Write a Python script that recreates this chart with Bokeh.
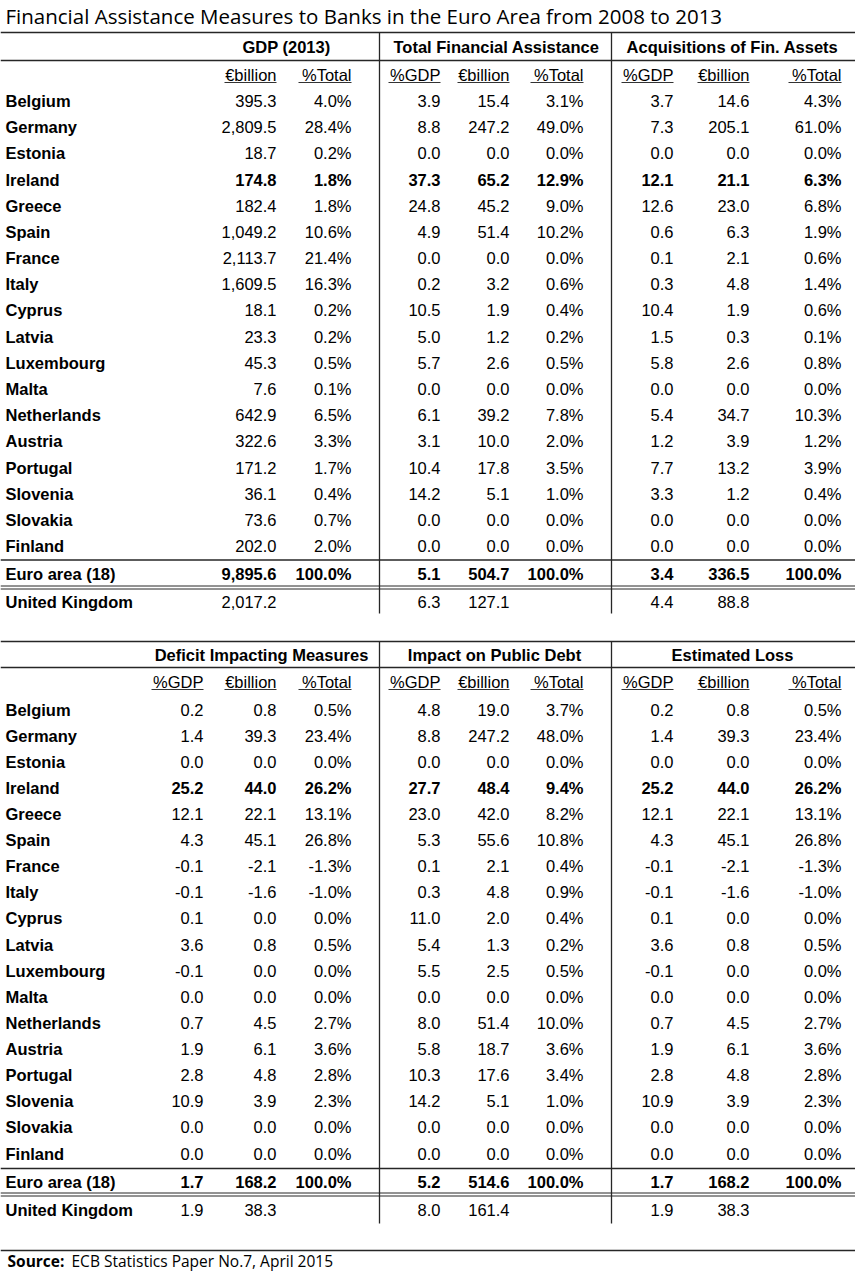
from bokeh.plotting import figure
from bokeh.models import ColumnDataSource, Range1d
from bokeh.core.properties import value
from bokeh.embed import file_html
from bokeh.resources import INLINE

# ---------------- data ----------------
title = "Financial Assistance Measures to Banks in the Euro Area from 2008 to 2013"
source_label = "Source:"
source_text = "ECB Statistics Paper No.7, April 2015"

countries = ["Belgium", "Germany", "Estonia", "Ireland", "Greece", "Spain", "France",
             "Italy", "Cyprus", "Latvia", "Luxembourg", "Malta", "Netherlands",
             "Austria", "Portugal", "Slovenia", "Slovakia", "Finland",
             "Euro area (18)", "United Kingdom"]
bold_rows = ["Ireland", "Euro area (18)"]

table1_groups = ["GDP (2013)", "Total Financial Assistance", "Acquisitions of Fin. Assets"]
table2_groups = ["Deficit Impacting Measures", "Impact on Public Debt", "Estimated Loss"]
sub_gdp = ["€billion", "%Total"]
sub_std = ["%GDP", "€billion", "%Total"]

gdp_bn = [395.3, 2809.5, 18.7, 174.8, 182.4, 1049.2, 2113.7, 1609.5, 18.1, 23.3, 45.3,
          7.6, 642.9, 322.6, 171.2, 36.1, 73.6, 202.0, 9895.6, 2017.2]
gdp_pct = [4.0, 28.4, 0.2, 1.8, 1.8, 10.6, 21.4, 16.3, 0.2, 0.2, 0.5, 0.1, 6.5, 3.3,
           1.7, 0.4, 0.7, 2.0, 100.0, None]

tfa_gdp = [3.9, 8.8, 0.0, 37.3, 24.8, 4.9, 0.0, 0.2, 10.5, 5.0, 5.7, 0.0, 6.1, 3.1,
           10.4, 14.2, 0.0, 0.0, 5.1, 6.3]
tfa_bn = [15.4, 247.2, 0.0, 65.2, 45.2, 51.4, 0.0, 3.2, 1.9, 1.2, 2.6, 0.0, 39.2, 10.0,
          17.8, 5.1, 0.0, 0.0, 504.7, 127.1]
tfa_pct = [3.1, 49.0, 0.0, 12.9, 9.0, 10.2, 0.0, 0.6, 0.4, 0.2, 0.5, 0.0, 7.8, 2.0,
           3.5, 1.0, 0.0, 0.0, 100.0, None]

acq_gdp = [3.7, 7.3, 0.0, 12.1, 12.6, 0.6, 0.1, 0.3, 10.4, 1.5, 5.8, 0.0, 5.4, 1.2,
           7.7, 3.3, 0.0, 0.0, 3.4, 4.4]
acq_bn = [14.6, 205.1, 0.0, 21.1, 23.0, 6.3, 2.1, 4.8, 1.9, 0.3, 2.6, 0.0, 34.7, 3.9,
          13.2, 1.2, 0.0, 0.0, 336.5, 88.8]
acq_pct = [4.3, 61.0, 0.0, 6.3, 6.8, 1.9, 0.6, 1.4, 0.6, 0.1, 0.8, 0.0, 10.3, 1.2,
           3.9, 0.4, 0.0, 0.0, 100.0, None]

dim_gdp = [0.2, 1.4, 0.0, 25.2, 12.1, 4.3, -0.1, -0.1, 0.1, 3.6, -0.1, 0.0, 0.7, 1.9,
           2.8, 10.9, 0.0, 0.0, 1.7, 1.9]
dim_bn = [0.8, 39.3, 0.0, 44.0, 22.1, 45.1, -2.1, -1.6, 0.0, 0.8, 0.0, 0.0, 4.5, 6.1,
          4.8, 3.9, 0.0, 0.0, 168.2, 38.3]
dim_pct = [0.5, 23.4, 0.0, 26.2, 13.1, 26.8, -1.3, -1.0, 0.0, 0.5, 0.0, 0.0, 2.7, 3.6,
           2.8, 2.3, 0.0, 0.0, 100.0, None]

ipd_gdp = [4.8, 8.8, 0.0, 27.7, 23.0, 5.3, 0.1, 0.3, 11.0, 5.4, 5.5, 0.0, 8.0, 5.8,
           10.3, 14.2, 0.0, 0.0, 5.2, 8.0]
ipd_bn = [19.0, 247.2, 0.0, 48.4, 42.0, 55.6, 2.1, 4.8, 2.0, 1.3, 2.5, 0.0, 51.4, 18.7,
          17.6, 5.1, 0.0, 0.0, 514.6, 161.4]
ipd_pct = [3.7, 48.0, 0.0, 9.4, 8.2, 10.8, 0.4, 0.9, 0.4, 0.2, 0.5, 0.0, 10.0, 3.6,
           3.4, 1.0, 0.0, 0.0, 100.0, None]

loss_gdp = [0.2, 1.4, 0.0, 25.2, 12.1, 4.3, -0.1, -0.1, 0.1, 3.6, -0.1, 0.0, 0.7, 1.9,
            2.8, 10.9, 0.0, 0.0, 1.7, 1.9]
loss_bn = [0.8, 39.3, 0.0, 44.0, 22.1, 45.1, -2.1, -1.6, 0.0, 0.8, 0.0, 0.0, 4.5, 6.1,
           4.8, 3.9, 0.0, 0.0, 168.2, 38.3]
loss_pct = [0.5, 23.4, 0.0, 26.2, 13.1, 26.8, -1.3, -1.0, 0.0, 0.5, 0.0, 0.0, 2.7, 3.6,
            2.8, 2.3, 0.0, 0.0, 100.0, None]


def f_num(v):
    return "" if v is None else "{:,.1f}".format(v)


def f_pct(v):
    return "" if v is None else "{:.1f}%".format(v)


# ---------------- figure ----------------
W, H = 855, 1276
p = figure(width=W, height=H, output_backend="svg", toolbar_location=None,
           x_range=Range1d(0, W), y_range=Range1d(H, 0),
           x_axis_location=None, y_axis_location=None, min_border=0,
           background_fill_color="white", border_fill_color="white")
p.outline_line_color = None
p.xgrid.visible = False
p.ygrid.visible = False

FONT = "Liberation Sans"
FS = "16.5px"
LINE = "#262626"

texts = {}  # key: (align, style) -> dict of lists


def add_text(x, y, t, align="right", style="normal"):
    d = texts.setdefault((align, style), {"x": [], "y": [], "t": []})
    d["x"].append(x)
    d["y"].append(y)
    d["t"].append(t)


hx0, hx1 = [], []
hy = []
hw = []
vx, vy0, vy1 = [], [], []
ux0, ux1, uy = [], [], []


def hline(y, w=1.5):
    hx0.append(0)
    hx1.append(W)
    hy.append(y)
    hw.append(w)


SUB_W = {"%GDP": 52, "€billion": 52, "%Total": 53}


def draw_table(top, head_y, line2, sub_y, row0, step, euro_line, euro_y,
               dbl_y, uk_y, vend, groups, group_cx, cols):
    hline(top, 1.6)
    hline(line2, 1.3)
    hline(euro_line, 1.3)
    hline(dbl_y - 1.5, 1.0)
    hline(dbl_y + 1.5, 1.0)
    for x in (379, 611):
        vx.append(x)
        vy0.append(top)
        vy1.append(vend)
    for g, cx in zip(groups, group_cx):
        add_text(cx, head_y, g, "center", "bold")
    for xr, label, vals, fmt in cols:
        add_text(xr, sub_y, label, "right", "normal")
        ux0.append(xr - SUB_W[label])
        ux1.append(xr)
        uy.append(sub_y + 8)
    for i, c in enumerate(countries):
        if i < 18:
            y = row0 + i * step
        elif i == 18:
            y = euro_y
        else:
            y = uk_y
        style = "bold" if c in bold_rows else "normal"
        add_text(5, y, c, "left", "bold")
        for xr, label, vals, fmt in cols:
            s = fmt(vals[i])
            if s:
                add_text(xr, y, s, "right", style)


# Table 1
draw_table(top=32, head_y=46, line2=60, sub_y=74, row0=100.5, step=26.18,
           euro_line=559.5, euro_y=573, dbl_y=587, uk_y=601, vend=613,
           groups=table1_groups, group_cx=[286, 496, 732],
           cols=[(276, sub_gdp[0], gdp_bn, f_num), (351, sub_gdp[1], gdp_pct, f_pct),
                 (440, sub_std[0], tfa_gdp, f_num), (509, sub_std[1], tfa_bn, f_num),
                 (583, sub_std[2], tfa_pct, f_pct),
                 (673, sub_std[0], acq_gdp, f_num), (749, sub_std[1], acq_bn, f_num),
                 (841, sub_std[2], acq_pct, f_pct)])

# Table 2
draw_table(top=641, head_y=654, line2=667, sub_y=681, row0=709, step=26.12,
           euro_line=1168, euro_y=1181, dbl_y=1194, uk_y=1209, vend=1223,
           groups=table2_groups, group_cx=[261, 494, 732],
           cols=[(203, sub_std[0], dim_gdp, f_num), (276, sub_std[1], dim_bn, f_num),
                 (351, sub_std[2], dim_pct, f_pct),
                 (440, sub_std[0], ipd_gdp, f_num), (509, sub_std[1], ipd_bn, f_num),
                 (583, sub_std[2], ipd_pct, f_pct),
                 (673, sub_std[0], loss_gdp, f_num), (749, sub_std[1], loss_bn, f_num),
                 (841, sub_std[2], loss_pct, f_pct)])

hline(1250, 1.3)

# lines
p.segment(x0=hx0, y0=hy, x1=hx1, y1=hy, line_color=LINE, line_width=hw)
p.segment(x0=vx, y0=vy0, x1=vx, y1=vy1, line_color=LINE, line_width=1.3)
p.segment(x0=ux0, y0=uy, x1=ux1, y1=uy, line_color="#333333", line_width=1.0)

# table texts
for (align, style), d in texts.items():
    src = ColumnDataSource(dict(x=d["x"], y=d["y"], t=d["t"]))
    p.text(x="x", y="y", text="t", source=src, text_align=align,
           text_baseline="middle", text_font=value(FONT), text_font_size=FS,
           text_font_style=style, text_color="#000000")

# title and source
p.text(x=[5], y=[15], text=[title], text_align="left", text_baseline="middle",
       text_font=value("Open Sans"), text_font_size="20.5px", text_color="#000000")
p.text(x=[7], y=[1260], text=[source_label], text_align="left", text_baseline="middle",
       text_font=value("Open Sans"), text_font_size="15.5px", text_font_style="bold",
       text_color="#000000")
p.text(x=[71], y=[1260], text=[source_text], text_align="left", text_baseline="middle",
       text_font=value("Open Sans"), text_font_size="15.5px", text_color="#000000")

open("out.html", "w").write(file_html(p, INLINE))
